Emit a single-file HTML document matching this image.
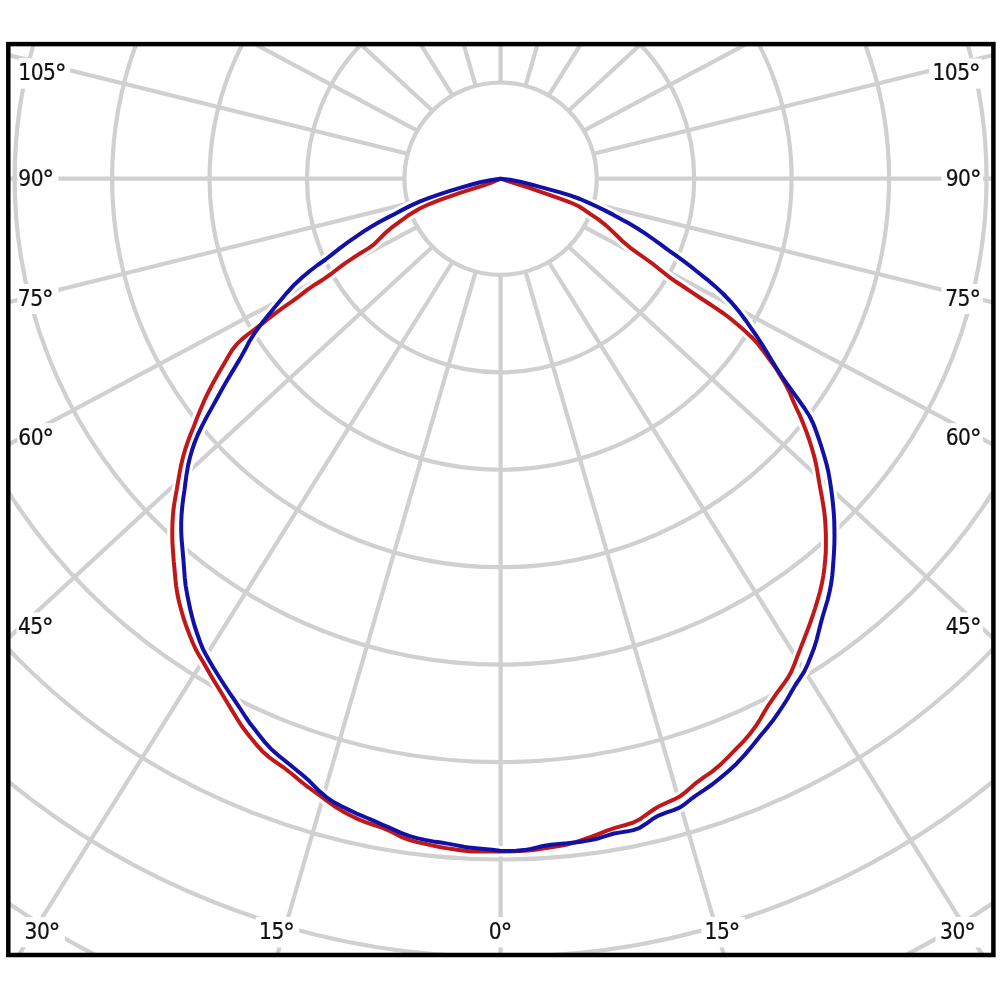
<!DOCTYPE html>
<html><head><meta charset="utf-8"><style>
html,body{margin:0;padding:0;background:#fff;}
svg{display:block;}
text{font-family:"DejaVu Sans","Liberation Sans",sans-serif;font-stretch:condensed;font-size:22.5px;fill:#111;stroke:#111;stroke-width:0.22px;letter-spacing:-0.5px;}
tspan.d{font-stretch:normal;font-size:24px;}
</style></head><body>
<svg width="1000" height="1000" viewBox="0 0 1000 1000">
<defs><clipPath id="c"><rect x="8.3" y="44.1" width="985.1" height="910.9"/></clipPath></defs>
<rect width="1000" height="1000" fill="#fff"/>
<g clip-path="url(#c)" fill="none" stroke="#d0d0d0" stroke-width="4.2">
<circle cx="500.6" cy="178.7" r="96.18"/>
<circle cx="500.6" cy="178.7" r="193.62"/>
<circle cx="500.6" cy="178.7" r="291.06"/>
<circle cx="500.6" cy="178.7" r="388.50"/>
<circle cx="500.6" cy="178.7" r="485.94"/>
<circle cx="500.6" cy="178.7" r="583.38"/>
<circle cx="500.6" cy="178.7" r="680.82"/>
<circle cx="500.6" cy="178.7" r="778.26"/>
<circle cx="500.6" cy="178.7" r="875.70"/>
<line x1="500.60" y1="274.88" x2="500.60" y2="2274.88"/>
<line x1="525.49" y1="271.60" x2="1086.61" y2="2203.45"/>
<line x1="548.69" y1="261.99" x2="1632.69" y2="1994.05"/>
<line x1="568.61" y1="246.71" x2="2101.62" y2="1660.92"/>
<line x1="583.89" y1="226.79" x2="2461.44" y2="1226.79"/>
<line x1="593.50" y1="203.59" x2="2687.63" y2="721.23"/>
<line x1="596.78" y1="178.70" x2="2764.78" y2="178.70"/>
<line x1="593.50" y1="153.81" x2="2687.63" y2="-363.83"/>
<line x1="583.89" y1="130.61" x2="2461.44" y2="-869.39"/>
<line x1="568.61" y1="110.69" x2="2101.62" y2="-1303.52"/>
<line x1="548.69" y1="95.41" x2="1632.69" y2="-1636.65"/>
<line x1="525.49" y1="85.80" x2="1086.61" y2="-1846.05"/>
<line x1="500.60" y1="82.52" x2="500.60" y2="-1917.48"/>
<line x1="475.71" y1="85.80" x2="-85.41" y2="-1846.05"/>
<line x1="452.51" y1="95.41" x2="-631.49" y2="-1636.65"/>
<line x1="432.59" y1="110.69" x2="-1100.42" y2="-1303.52"/>
<line x1="417.31" y1="130.61" x2="-1460.24" y2="-869.39"/>
<line x1="407.70" y1="153.81" x2="-1686.43" y2="-363.83"/>
<line x1="404.42" y1="178.70" x2="-1763.58" y2="178.70"/>
<line x1="407.70" y1="203.59" x2="-1686.43" y2="721.23"/>
<line x1="417.31" y1="226.79" x2="-1460.24" y2="1226.79"/>
<line x1="432.59" y1="246.71" x2="-1100.42" y2="1660.92"/>
<line x1="452.51" y1="261.99" x2="-631.49" y2="1994.05"/>
<line x1="475.71" y1="271.60" x2="-85.41" y2="2203.45"/>
</g>
<g fill="#fff">
<rect x="18.7" y="58.2" width="51.5" height="30.4"/>
<rect x="17.4" y="164.0" width="41.0" height="30.4"/>
<rect x="17.4" y="284.0" width="41.0" height="30.0"/>
<rect x="17.4" y="423.2" width="41.0" height="30.4"/>
<rect x="16.6" y="612.4" width="41.8" height="30.0"/>
<rect x="929.0" y="58.4" width="52.8" height="30.2"/>
<rect x="941.4" y="164.2" width="41.6" height="30.2"/>
<rect x="941.4" y="284.0" width="41.6" height="30.0"/>
<rect x="941.4" y="423.2" width="41.6" height="30.4"/>
<rect x="941.4" y="612.4" width="41.6" height="30.0"/>
<rect x="20.2" y="917.2" width="44.6" height="30.0"/>
<rect x="255.8" y="917.0" width="43.4" height="30.4"/>
<rect x="484.2" y="917.0" width="32.2" height="30.4"/>
<rect x="701.4" y="917.0" width="43.4" height="30.4"/>
<rect x="935.6" y="917.0" width="45.0" height="30.4"/>
</g>
<g fill="none" stroke="#fff" stroke-width="10" stroke-linejoin="round" stroke-linecap="round">
<polyline points="500.6,178.7 490.1,183.1 480.0,186.6 470.0,189.7 460.0,192.9 450.0,196.3 439.9,199.9 429.9,203.8 419.8,208.5 410.1,214.2 401.5,220.3 393.3,226.3 385.6,232.8 379.2,239.1 374.0,244.3 368.4,248.4 361.2,252.8 353.2,257.8 345.3,263.2 337.9,268.7 331.0,274.0 323.5,279.2 315.6,284.2 307.6,289.6 299.6,295.8 291.7,301.6 283.8,307.1 275.9,312.9 268.4,318.7 261.4,324.4 254.4,329.5 247.7,334.5 241.8,339.4 236.6,344.4 231.8,350.5 227.4,357.9 222.9,365.7 218.2,373.8 213.4,382.4 208.8,391.2 204.5,400.1 200.7,409.0 197.2,417.5 194.0,425.9 190.7,434.0 187.7,442.0 185.0,450.0 182.8,458.0 180.9,466.0 179.4,474.0 178.0,482.0 176.7,490.0 175.2,498.0 173.9,506.0 173.0,514.0 172.5,522.0 172.3,530.0 172.3,538.0 172.6,546.0 173.2,554.0 173.8,562.0 174.6,570.0 175.3,578.0 176.1,586.0 177.4,594.0 179.1,602.0 181.2,610.0 183.5,618.0 186.2,626.0 189.2,634.0 192.4,642.0 195.8,649.5 199.3,655.7 203.0,661.7 207.1,669.0 211.7,677.0 216.6,685.0 221.5,693.0 226.3,701.0 231.2,709.1 236.6,718.0 242.6,727.3 249.1,735.8 255.5,743.6 262.0,750.9 268.9,757.1 276.5,762.6 284.6,768.2 292.6,774.5 300.6,781.2 308.2,787.2 314.1,791.4 319.2,795.0 326.0,800.2 334.0,806.0 342.0,810.9 350.0,815.2 358.0,819.1 366.0,822.3 374.0,825.0 382.0,827.6 388.7,830.4 394.2,833.3 401.0,836.8 409.0,839.9 417.0,842.1 425.0,843.8 433.0,845.6 441.0,847.2 449.0,848.6 457.0,849.8 464.8,850.8 472.2,851.4 480.0,851.6 488.0,851.6 496.0,851.6 504.0,851.5 512.0,851.3 520.0,851.0 527.8,850.5 535.2,849.7 543.0,848.6 551.0,847.3 559.0,846.0 567.0,844.5 575.0,842.3 583.0,839.7 591.0,836.9 599.0,833.8 607.0,830.7 614.3,828.2 620.3,826.4 626.5,824.7 633.4,822.5 639.8,819.3 646.0,814.9 652.2,810.5 658.6,806.5 666.0,803.0 673.6,799.7 680.2,796.2 685.6,792.1 690.5,787.7 696.5,782.6 704.0,777.2 712.1,771.6 720.2,764.8 728.3,756.8 736.3,748.6 744.0,740.8 750.4,733.4 755.6,726.3 760.1,719.3 764.3,712.1 768.7,704.8 773.5,697.8 778.2,691.2 783.0,684.8 787.5,678.4 791.4,671.6 794.5,664.0 797.5,656.0 800.6,648.0 803.7,640.0 806.8,632.0 809.8,624.0 812.6,616.0 815.2,608.0 817.6,600.0 819.9,592.0 821.8,584.0 823.3,576.0 824.4,568.0 825.2,560.0 825.8,552.0 825.9,544.0 825.9,536.0 825.6,528.0 825.1,520.0 824.3,512.0 823.1,504.0 821.7,496.0 820.2,488.0 818.8,480.0 817.5,472.0 816.0,464.0 814.1,456.0 811.8,448.0 809.3,440.0 806.5,432.0 803.4,424.0 800.1,416.0 796.3,408.0 792.9,400.4 790.0,393.2 786.2,385.6 781.6,377.6 776.9,370.0 772.3,363.2 767.6,356.8 762.9,350.4 757.9,344.0 752.2,337.7 745.8,331.7 739.0,325.8 732.1,319.9 724.4,314.0 716.2,308.4 708.1,303.0 700.1,297.8 692.0,292.4 684.0,287.0 676.0,281.8 668.3,276.3 661.0,270.5 653.8,264.7 646.0,259.0 638.0,253.4 630.0,247.6 622.0,240.7 614.0,232.9 606.0,225.4 598.0,219.1 590.8,214.3 585.0,210.3 578.7,206.3 570.0,202.3 560.0,198.6 550.0,195.1 540.0,191.6 530.0,188.2 520.5,185.1 511.1,182.2 500.6,178.7"/>
<polyline points="500.6,178.7 490.2,180.3 480.0,182.3 470.0,185.0 460.0,187.9 450.0,190.9 440.0,194.1 430.0,197.6 420.1,201.4 410.7,205.6 402.4,209.9 394.7,214.0 387.1,217.9 379.3,222.0 371.5,226.5 363.7,231.4 355.7,236.8 347.7,242.4 340.0,248.1 332.7,253.9 325.5,259.5 317.7,265.0 309.8,271.0 301.8,277.8 294.3,284.7 286.9,292.8 278.1,303.3 268.8,314.5 260.4,325.1 254.1,333.9 249.5,341.2 245.3,349.3 240.7,357.6 235.9,365.6 231.1,373.6 226.4,381.6 221.6,390.0 216.8,398.8 211.9,407.6 207.0,416.4 202.3,425.4 198.1,434.0 194.8,442.0 192.1,450.0 189.8,458.0 188.0,466.0 186.6,474.0 185.5,482.0 184.5,490.0 183.3,498.0 182.3,506.0 181.6,514.0 181.2,522.0 181.2,530.0 181.5,538.0 182.2,546.0 182.9,554.0 183.6,562.0 184.2,570.0 184.8,578.0 185.7,586.0 187.1,594.0 188.7,602.0 190.4,610.0 192.4,618.0 194.6,626.0 197.3,634.0 200.1,642.0 202.8,648.8 205.7,654.3 209.5,661.0 214.2,669.0 219.2,677.0 224.3,685.0 229.6,693.0 235.1,701.0 240.4,709.0 245.6,717.0 250.3,723.8 254.5,729.1 259.5,735.4 265.5,742.9 271.6,749.5 278.5,755.5 286.3,761.7 294.2,768.2 302.2,774.8 309.4,781.1 314.6,786.3 319.3,791.1 326.0,796.8 334.0,802.3 342.0,806.5 350.0,810.4 358.0,814.2 366.0,817.5 374.0,820.9 382.0,824.5 388.8,827.4 394.3,829.8 401.0,832.9 409.0,835.8 417.0,838.1 425.0,839.9 433.0,841.4 441.0,842.6 449.0,843.9 457.0,845.4 463.8,846.7 469.2,847.6 476.0,848.3 484.0,849.0 492.0,849.8 500.0,850.7 508.0,850.9 516.0,850.7 524.0,850.1 530.8,848.9 536.2,847.6 543.0,846.0 551.0,844.7 559.0,844.0 567.0,843.3 575.0,842.4 583.0,841.4 591.0,840.1 599.0,838.2 607.0,835.6 613.8,833.5 619.3,832.6 626.0,831.6 633.4,830.1 639.8,827.8 646.0,823.8 652.2,819.3 658.6,815.6 666.0,812.7 673.6,810.2 680.0,807.4 685.2,803.8 690.3,799.7 696.5,795.2 704.0,790.2 712.1,784.5 720.1,778.1 728.3,771.3 736.5,763.7 744.7,754.9 752.8,745.2 760.6,735.6 767.7,727.1 773.7,719.4 778.6,712.4 782.9,706.0 787.2,699.2 791.3,692.0 795.4,685.0 799.9,678.4 804.2,671.6 807.8,664.0 811.0,656.0 814.1,648.0 816.6,640.0 818.6,632.0 820.6,624.0 822.8,616.0 825.2,608.0 827.6,600.0 829.5,592.0 831.1,584.0 832.2,576.0 832.9,568.0 833.5,560.0 834.0,552.0 834.4,544.0 834.5,536.0 834.4,528.0 834.2,520.0 833.7,512.0 833.0,504.0 832.1,496.0 831.0,488.0 829.8,480.0 828.4,472.0 826.5,464.0 824.2,456.0 821.8,448.0 819.2,440.0 816.4,432.0 813.4,424.0 809.5,416.0 804.3,408.0 798.4,399.6 792.1,391.0 786.5,383.2 781.4,375.8 776.4,368.0 771.5,360.0 766.7,352.0 761.8,344.0 756.6,336.0 750.9,327.9 745.2,319.7 739.0,311.4 731.5,302.5 723.3,294.0 715.2,286.4 707.2,279.6 699.2,273.2 691.1,266.8 683.1,260.6 675.1,254.9 667.6,249.6 660.6,244.4 653.1,239.0 645.1,233.4 637.1,228.2 629.2,223.6 621.3,219.2 613.5,214.9 605.7,210.9 597.8,207.0 589.4,203.1 580.0,199.0 570.0,195.4 560.0,192.4 550.0,189.6 540.0,186.9 530.0,184.2 520.0,181.6 510.1,179.8 500.6,178.7"/>
</g>
<g fill="none" stroke-width="4" stroke-linejoin="round" stroke-linecap="round">
<polyline stroke="#c01818" points="500.6,178.7 490.1,183.1 480.0,186.6 470.0,189.7 460.0,192.9 450.0,196.3 439.9,199.9 429.9,203.8 419.8,208.5 410.1,214.2 401.5,220.3 393.3,226.3 385.6,232.8 379.2,239.1 374.0,244.3 368.4,248.4 361.2,252.8 353.2,257.8 345.3,263.2 337.9,268.7 331.0,274.0 323.5,279.2 315.6,284.2 307.6,289.6 299.6,295.8 291.7,301.6 283.8,307.1 275.9,312.9 268.4,318.7 261.4,324.4 254.4,329.5 247.7,334.5 241.8,339.4 236.6,344.4 231.8,350.5 227.4,357.9 222.9,365.7 218.2,373.8 213.4,382.4 208.8,391.2 204.5,400.1 200.7,409.0 197.2,417.5 194.0,425.9 190.7,434.0 187.7,442.0 185.0,450.0 182.8,458.0 180.9,466.0 179.4,474.0 178.0,482.0 176.7,490.0 175.2,498.0 173.9,506.0 173.0,514.0 172.5,522.0 172.3,530.0 172.3,538.0 172.6,546.0 173.2,554.0 173.8,562.0 174.6,570.0 175.3,578.0 176.1,586.0 177.4,594.0 179.1,602.0 181.2,610.0 183.5,618.0 186.2,626.0 189.2,634.0 192.4,642.0 195.8,649.5 199.3,655.7 203.0,661.7 207.1,669.0 211.7,677.0 216.6,685.0 221.5,693.0 226.3,701.0 231.2,709.1 236.6,718.0 242.6,727.3 249.1,735.8 255.5,743.6 262.0,750.9 268.9,757.1 276.5,762.6 284.6,768.2 292.6,774.5 300.6,781.2 308.2,787.2 314.1,791.4 319.2,795.0 326.0,800.2 334.0,806.0 342.0,810.9 350.0,815.2 358.0,819.1 366.0,822.3 374.0,825.0 382.0,827.6 388.7,830.4 394.2,833.3 401.0,836.8 409.0,839.9 417.0,842.1 425.0,843.8 433.0,845.6 441.0,847.2 449.0,848.6 457.0,849.8 464.8,850.8 472.2,851.4 480.0,851.6 488.0,851.6 496.0,851.6 504.0,851.5 512.0,851.3 520.0,851.0 527.8,850.5 535.2,849.7 543.0,848.6 551.0,847.3 559.0,846.0 567.0,844.5 575.0,842.3 583.0,839.7 591.0,836.9 599.0,833.8 607.0,830.7 614.3,828.2 620.3,826.4 626.5,824.7 633.4,822.5 639.8,819.3 646.0,814.9 652.2,810.5 658.6,806.5 666.0,803.0 673.6,799.7 680.2,796.2 685.6,792.1 690.5,787.7 696.5,782.6 704.0,777.2 712.1,771.6 720.2,764.8 728.3,756.8 736.3,748.6 744.0,740.8 750.4,733.4 755.6,726.3 760.1,719.3 764.3,712.1 768.7,704.8 773.5,697.8 778.2,691.2 783.0,684.8 787.5,678.4 791.4,671.6 794.5,664.0 797.5,656.0 800.6,648.0 803.7,640.0 806.8,632.0 809.8,624.0 812.6,616.0 815.2,608.0 817.6,600.0 819.9,592.0 821.8,584.0 823.3,576.0 824.4,568.0 825.2,560.0 825.8,552.0 825.9,544.0 825.9,536.0 825.6,528.0 825.1,520.0 824.3,512.0 823.1,504.0 821.7,496.0 820.2,488.0 818.8,480.0 817.5,472.0 816.0,464.0 814.1,456.0 811.8,448.0 809.3,440.0 806.5,432.0 803.4,424.0 800.1,416.0 796.3,408.0 792.9,400.4 790.0,393.2 786.2,385.6 781.6,377.6 776.9,370.0 772.3,363.2 767.6,356.8 762.9,350.4 757.9,344.0 752.2,337.7 745.8,331.7 739.0,325.8 732.1,319.9 724.4,314.0 716.2,308.4 708.1,303.0 700.1,297.8 692.0,292.4 684.0,287.0 676.0,281.8 668.3,276.3 661.0,270.5 653.8,264.7 646.0,259.0 638.0,253.4 630.0,247.6 622.0,240.7 614.0,232.9 606.0,225.4 598.0,219.1 590.8,214.3 585.0,210.3 578.7,206.3 570.0,202.3 560.0,198.6 550.0,195.1 540.0,191.6 530.0,188.2 520.5,185.1 511.1,182.2 500.6,178.7"/>
<polyline stroke="#1111a8" points="500.6,178.7 490.2,180.3 480.0,182.3 470.0,185.0 460.0,187.9 450.0,190.9 440.0,194.1 430.0,197.6 420.1,201.4 410.7,205.6 402.4,209.9 394.7,214.0 387.1,217.9 379.3,222.0 371.5,226.5 363.7,231.4 355.7,236.8 347.7,242.4 340.0,248.1 332.7,253.9 325.5,259.5 317.7,265.0 309.8,271.0 301.8,277.8 294.3,284.7 286.9,292.8 278.1,303.3 268.8,314.5 260.4,325.1 254.1,333.9 249.5,341.2 245.3,349.3 240.7,357.6 235.9,365.6 231.1,373.6 226.4,381.6 221.6,390.0 216.8,398.8 211.9,407.6 207.0,416.4 202.3,425.4 198.1,434.0 194.8,442.0 192.1,450.0 189.8,458.0 188.0,466.0 186.6,474.0 185.5,482.0 184.5,490.0 183.3,498.0 182.3,506.0 181.6,514.0 181.2,522.0 181.2,530.0 181.5,538.0 182.2,546.0 182.9,554.0 183.6,562.0 184.2,570.0 184.8,578.0 185.7,586.0 187.1,594.0 188.7,602.0 190.4,610.0 192.4,618.0 194.6,626.0 197.3,634.0 200.1,642.0 202.8,648.8 205.7,654.3 209.5,661.0 214.2,669.0 219.2,677.0 224.3,685.0 229.6,693.0 235.1,701.0 240.4,709.0 245.6,717.0 250.3,723.8 254.5,729.1 259.5,735.4 265.5,742.9 271.6,749.5 278.5,755.5 286.3,761.7 294.2,768.2 302.2,774.8 309.4,781.1 314.6,786.3 319.3,791.1 326.0,796.8 334.0,802.3 342.0,806.5 350.0,810.4 358.0,814.2 366.0,817.5 374.0,820.9 382.0,824.5 388.8,827.4 394.3,829.8 401.0,832.9 409.0,835.8 417.0,838.1 425.0,839.9 433.0,841.4 441.0,842.6 449.0,843.9 457.0,845.4 463.8,846.7 469.2,847.6 476.0,848.3 484.0,849.0 492.0,849.8 500.0,850.7 508.0,850.9 516.0,850.7 524.0,850.1 530.8,848.9 536.2,847.6 543.0,846.0 551.0,844.7 559.0,844.0 567.0,843.3 575.0,842.4 583.0,841.4 591.0,840.1 599.0,838.2 607.0,835.6 613.8,833.5 619.3,832.6 626.0,831.6 633.4,830.1 639.8,827.8 646.0,823.8 652.2,819.3 658.6,815.6 666.0,812.7 673.6,810.2 680.0,807.4 685.2,803.8 690.3,799.7 696.5,795.2 704.0,790.2 712.1,784.5 720.1,778.1 728.3,771.3 736.5,763.7 744.7,754.9 752.8,745.2 760.6,735.6 767.7,727.1 773.7,719.4 778.6,712.4 782.9,706.0 787.2,699.2 791.3,692.0 795.4,685.0 799.9,678.4 804.2,671.6 807.8,664.0 811.0,656.0 814.1,648.0 816.6,640.0 818.6,632.0 820.6,624.0 822.8,616.0 825.2,608.0 827.6,600.0 829.5,592.0 831.1,584.0 832.2,576.0 832.9,568.0 833.5,560.0 834.0,552.0 834.4,544.0 834.5,536.0 834.4,528.0 834.2,520.0 833.7,512.0 833.0,504.0 832.1,496.0 831.0,488.0 829.8,480.0 828.4,472.0 826.5,464.0 824.2,456.0 821.8,448.0 819.2,440.0 816.4,432.0 813.4,424.0 809.5,416.0 804.3,408.0 798.4,399.6 792.1,391.0 786.5,383.2 781.4,375.8 776.4,368.0 771.5,360.0 766.7,352.0 761.8,344.0 756.6,336.0 750.9,327.9 745.2,319.7 739.0,311.4 731.5,302.5 723.3,294.0 715.2,286.4 707.2,279.6 699.2,273.2 691.1,266.8 683.1,260.6 675.1,254.9 667.6,249.6 660.6,244.4 653.1,239.0 645.1,233.4 637.1,228.2 629.2,223.6 621.3,219.2 613.5,214.9 605.7,210.9 597.8,207.0 589.4,203.1 580.0,199.0 570.0,195.4 560.0,192.4 550.0,189.6 540.0,186.9 530.0,184.2 520.0,181.6 510.1,179.8 500.6,178.7"/>
</g>
<text x="18.35" y="80.00">105<tspan class="d" dx="-0.8" dy="2.1">°</tspan></text>
<text x="18.30" y="185.80">90<tspan class="d" dx="-0.8" dy="2.1">°</tspan></text>
<text x="17.80" y="305.80">75<tspan class="d" dx="-0.8" dy="2.1">°</tspan></text>
<text x="18.30" y="445.00">60<tspan class="d" dx="-0.8" dy="2.1">°</tspan></text>
<text x="17.90" y="634.20">45<tspan class="d" dx="-0.8" dy="2.1">°</tspan></text>
<text x="932.40" y="80.20">105<tspan class="d" dx="-0.8" dy="2.1">°</tspan></text>
<text x="945.70" y="186.00">90<tspan class="d" dx="-0.8" dy="2.1">°</tspan></text>
<text x="945.20" y="305.80">75<tspan class="d" dx="-0.8" dy="2.1">°</tspan></text>
<text x="945.70" y="445.00">60<tspan class="d" dx="-0.8" dy="2.1">°</tspan></text>
<text x="945.70" y="634.20">45<tspan class="d" dx="-0.8" dy="2.1">°</tspan></text>
<text x="24.50" y="939.00">30<tspan class="d" dx="-0.8" dy="2.1">°</tspan></text>
<text x="259.00" y="938.80">15<tspan class="d" dx="-0.8" dy="2.1">°</tspan></text>
<text x="488.80" y="938.80">0<tspan class="d" dx="-0.8" dy="2.1">°</tspan></text>
<text x="704.60" y="938.80">15<tspan class="d" dx="-0.8" dy="2.1">°</tspan></text>
<text x="940.10" y="938.80">30<tspan class="d" dx="-0.8" dy="2.1">°</tspan></text>
<rect x="8.3" y="44.1" width="985.1" height="910.9" fill="none" stroke="#000" stroke-width="4.5"/>
</svg>
</body></html>
